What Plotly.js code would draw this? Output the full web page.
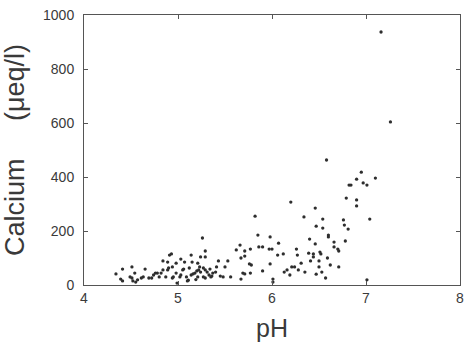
<!DOCTYPE html>
<html><head><meta charset="utf-8">
<script src="https://cdn.plot.ly/plotly-3.0.1.min.js"></script>
<style>html,body{margin:0;padding:0;background:#fff}#c{width:466px;height:350px}</style>
</head><body><div id="c"></div>
<script>
const pH = [4.34,4.39,4.41,4.41,4.49,4.51,4.51,4.52,4.54,4.55,4.61,4.63,4.65,4.69,4.72,4.76,4.78,4.80,4.82,4.84,4.84,4.87,4.89,4.89,4.90,4.91,4.93,4.94,4.94,4.95,4.98,4.98,4.99,5.02,5.03,5.03,5.05,5.06,5.07,5.09,5.10,5.11,5.14,5.14,5.15,5.16,5.18,5.19,5.21,5.21,5.22,5.23,5.24,5.24,5.26,5.27,5.27,5.29,5.29,5.29,5.29,5.31,5.33,5.35,5.36,5.37,5.40,5.41,5.43,5.45,5.48,5.50,5.53,5.56,5.62,5.66,5.67,5.67,5.69,5.71,5.71,5.71,5.76,5.77,5.77,5.78,5.82,5.85,5.86,5.90,5.90,5.97,5.98,5.98,6.00,6.01,6.01,6.06,6.07,6.12,6.13,6.16,6.19,6.20,6.21,6.24,6.26,6.27,6.31,6.34,6.39,6.40,6.41,6.44,6.44,6.46,6.46,6.47,6.50,6.50,6.51,6.52,6.54,6.54,6.58,6.59,6.60,6.60,6.62,6.66,6.66,6.70,6.71,6.71,6.76,6.77,6.78,6.79,6.81,6.82,6.84,6.90,6.90,6.90,6.95,6.97,7.01,7.01,7.04,7.10,7.16,7.26,6.28,6.53,6.57,6.47,6.35,4.57,4.74,5.12,5.20,5.34];
const calcium = [41,22,15,59,30,26,67,15,44,11,26,30,59,26,26,44,44,30,44,56,89,30,56,85,63,111,115,67,26,30,44,81,7,30,37,96,56,59,85,30,15,18,111,37,85,41,44,20,81,30,56,67,104,48,174,63,30,126,104,56,26,48,37,30,33,44,48,67,89,33,30,67,89,30,130,148,100,22,44,126,107,41,78,133,44,74,255,185,141,141,52,133,178,78,133,22,11,111,155,115,48,56,37,307,67,67,133,111,81,252,118,170,89,115,104,152,285,218,89,67,122,115,244,211,463,100,185,178,74,159,141,133,126,67,241,222,163,322,207,370,370,392,315,293,418,378,370,19,244,396,937,604,56,48,26,40,48,19,37,63,52,59];
const xTicks = [4,5,6,7,8];
const yTicks = [0,200,400,600,800,1000];

const ink = '#3a3a3a';
Plotly.newPlot('c', [{
  type: 'scatter', mode: 'markers', x: pH, y: calcium,
  marker: {size: 3.3, color: '#2e2e2e'}, hoverinfo: 'none'
}], {
  width: 466, height: 350,
  margin: {l: 84, r: 6, t: 15, b: 65},
  paper_bgcolor: '#fff', plot_bgcolor: '#fff',
  showlegend: false,
  font: {family: 'Liberation Sans, Arial, sans-serif', color: ink},
  xaxis: {
    range: [4, 8], tickvals: xTicks, ticktext: xTicks.map(String),
    ticks: 'inside', ticklen: 4, tickcolor: '#555', mirror: 'ticks',
    showline: true, linecolor: '#555', linewidth: 1, showgrid: false, zeroline: false,
    tickfont: {size: 14, color: ink},
    title: {text: 'pH', font: {size: 25, color: ink}, standoff: 14}
  },
  yaxis: {
    range: [0, 1000], tickvals: yTicks, ticktext: yTicks.map(String),
    ticks: 'inside', ticklen: 4, tickcolor: '#555', mirror: 'ticks',
    showline: true, linecolor: '#555', linewidth: 1, showgrid: false, zeroline: false,
    tickfont: {size: 14, color: ink}, ticklabelstandoff: 6,
    title: {text: 'Calcium\u00a0\u00a0\u00a0\u00a0\u00a0(\u03bceq/l)', font: {size: 27, color: ink}, standoff: 10}
  }
}, {displayModeBar: false, staticPlot: true});
</script></body></html>
